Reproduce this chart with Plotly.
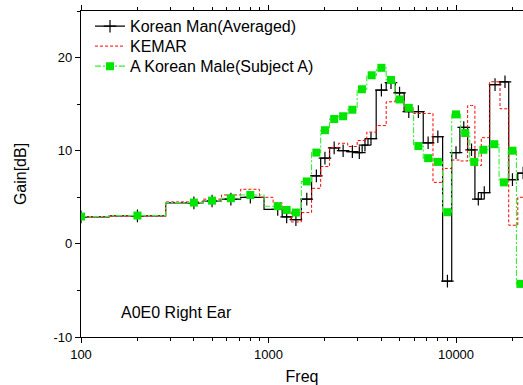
import plotly.graph_objects as go

# ---- data ----
f_black = [100, 200, 400, 500, 630, 800, 1120, 1250, 1400, 1600, 1800, 2000, 2240, 2500, 2800,
           3050, 3270, 3520, 4000, 4500, 5000, 5600, 6300, 7100, 8000, 9000, 10000, 11000, 12100,
           13150, 14150, 16150, 18250, 20000, 22800]
gain_black = [2.9, 3.0, 4.4, 4.6, 4.8, 5.0, 3.7, 2.9, 2.6, 4.8, 7.3, 9.2, 10.3, 10.0, 9.9,
              9.8, 10.6, 11.3, 16.5, 17.3, 16.2, 14.2, 14.2, 10.85, 11.5, -4.0, 9.8, 12.5, 10.1,
              4.8, 5.5, 17.1, 17.4, 6.9, 7.6]

f_kemar = [100, 200, 400, 500, 630, 800, 1000, 1120, 1250, 1400, 1600, 1800, 2000, 2240, 2500,
           2800, 3150, 3550, 4000, 4500, 5000, 5600, 6300, 7100, 8000, 9000, 10000, 11000, 12100,
           13150, 14150, 16150, 18250, 20000, 22800]
gain_kemar = [2.9, 3.0, 4.5, 4.8, 5.25, 5.86, 5.0, 4.4, 3.5, 2.35, 3.36, 5.96, 8.3, 10.35, 10.8,
              10.45, 11.1, 12.0, 12.7, 15.25, 15.5, 14.4, 14.0, 14.0, 6.6, 8.1, 9.0, 8.9, 14.85,
              8.4, 11.4, 17.4, 14.5, 2.0, 5.0]

f_subject = [100, 200, 400, 500, 630, 800, 1120, 1250, 1400, 1600, 1800, 2000, 2240, 2500, 2800,
             3150, 3550, 4000, 4500, 5000, 5600, 6300, 7100, 8000, 9000, 10000, 11200, 12500,
             14000, 16000, 18000, 20000, 22050]
gain_subject = [2.93, 3.04, 4.43, 4.64, 4.9, 5.25, 4.04, 3.64, 3.36, 6.7, 9.8, 12.2, 13.4, 13.7, 14.4,
                16.6, 18.1, 18.9, 17.6, 15.5, 14.6, 10.5, 9.2, 8.8, 3.4, 13.9, 11.9, 8.8,
                10.1, 10.7, 6.6, 10.0, -4.3]

names = ["Korean Man(Averaged)", "KEMAR", "A Korean Male(Subject A)"]
x_tick_vals = [100, 1000, 10000]
x_tick_text = ["100", "1000", "10000"]
y_tick_vals = [-10, 0, 10, 20]
y_tick_text = ["-10", "0", "10", "20"]

FONT = "Liberation Sans, Arial, sans-serif"

fig = go.Figure()
fig.add_trace(go.Scatter(
    x=f_black, y=gain_black, name=names[0], mode="lines+markers", legend="legend",
    line=dict(color="black", width=1.2, shape="hvh"),
    marker=dict(symbol="cross-thin", size=9, line=dict(color="black", width=1.2)),
))
fig.add_trace(go.Scatter(
    x=f_kemar, y=gain_kemar, name=names[1], mode="lines", legend="legend2",
    line=dict(color="#ff0000", width=1.0, shape="hvh", dash="3px,2px"),
))
fig.add_trace(go.Scatter(
    x=f_subject, y=gain_subject, name=names[2], mode="lines+markers", legend="legend3",
    line=dict(color="#33ee33", width=1.1, shape="hvh", dash="6px,2px,2px,2px"),
    marker=dict(symbol="square", size=8, color="#00e600"),
))

fig.add_annotation(
    text="A0E0 Right Ear", xref="paper", yref="paper", x=0.086, y=0.074,
    xanchor="left", yanchor="middle", showarrow=False,
    font=dict(family=FONT, size=16, color="black"),
)

leg_common = dict(x=0.0204, xanchor="left", yanchor="middle",
                  bgcolor="rgba(0,0,0,0)", borderwidth=0,
                  font=dict(family=FONT, size=16, color="black"))

fig.update_layout(
    width=523, height=385,
    margin=dict(l=81, r=0, t=11, b=48),
    paper_bgcolor="white", plot_bgcolor="white",
    font=dict(family=FONT, size=13, color="black"),
    showlegend=True,
    legend=dict(y=0.953, **leg_common),
    legend2=dict(y=0.892, **leg_common),
    legend3=dict(y=0.8305, **leg_common),
    xaxis=dict(
        type="log", range=[2, 4.3573], showgrid=False, zeroline=False,
        showline=True, linecolor="black", linewidth=1.3, mirror="ticks",
        ticks="outside", ticklen=5, tickwidth=1.2, tickcolor="black",
        tickvals=x_tick_vals, ticktext=x_tick_text,
        minor=dict(ticks="outside", ticklen=3, tickwidth=1, tickcolor="black", dtick="D1", showgrid=False),
        title=dict(text="Freq", font=dict(family=FONT, size=16), standoff=14),
        automargin=False,
    ),
    yaxis=dict(
        range=[-10, 25], showgrid=False, zeroline=False,
        showline=True, linecolor="black", linewidth=1.3, mirror=False,
        ticks="outside", ticklen=5, tickwidth=1.2, tickcolor="black",
        tickvals=y_tick_vals, ticktext=y_tick_text,
        minor=dict(ticks="outside", ticklen=3, tickwidth=1, tickcolor="black", dtick=5, showgrid=False),
        title=dict(text="Gain[dB]", font=dict(family=FONT, size=16), standoff=22),
        automargin=False,
    ),
)

fig.write_html("out.html")
